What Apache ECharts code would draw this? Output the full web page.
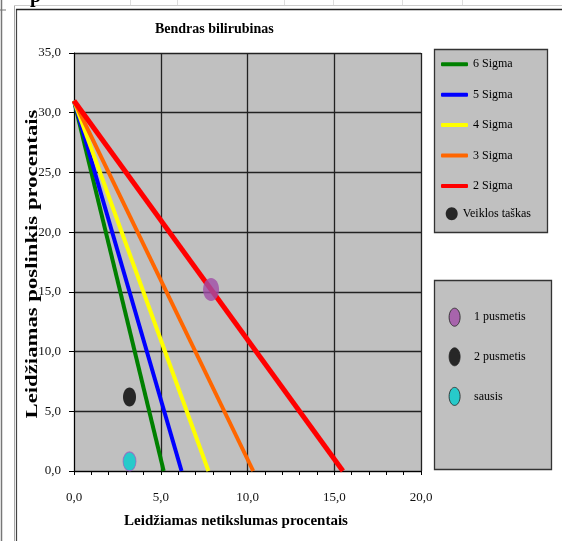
<!DOCTYPE html>
<html>
<head>
<meta charset="utf-8">
<script src="https://cdn.jsdelivr.net/npm/echarts@6/dist/echarts.min.js"></script>
<style>
  html, body { margin: 0; padding: 0; background: #ffffff; }
  #chart { width: 562px; height: 541px; }
</style>
</head>
<body>
<div id="chart"></div>
<script>
// Sigma decision lines: each runs from (0, allowed bias) to (allowed CV, 0)
const sigmaNames = ['6 Sigma', '5 Sigma', '4 Sigma', '3 Sigma', '2 Sigma'];
const sigmaColors = ['#008000', '#0000ff', '#ffff00', '#ff6600', '#ff0000'];
const sigmaBiasAtZero = [31.0, 31.0, 31.0, 31.0, 31.0];
const sigmaCvAtZero = [5.17, 6.2, 7.75, 10.33, 15.5];

// Operating points (CV %, bias %)
const pointNames = ['1 pusmetis', '2 pusmetis', 'sausis'];
const pointColors = ['#a04ca6', '#000000', '#00cccc'];
const pointCv = [7.9, 3.2, 3.2];
const pointBias = [15.2, 6.2, 0.8];

// Axis ticks
const xTicks = [0, 5, 10, 15, 20];
const yTicks = [0, 5, 10, 15, 20, 25, 30, 35];

const serif = '"Liberation Serif", "Times New Roman", serif';
const ellipse = 'path://M0,-1C0.552,-1,1,-0.552,1,0C1,0.552,0.552,1,0,1C-0.552,1,-1,0.552,-1,0C-1,-0.552,-0.552,-1,0,-1Z';
const fmt = v => v.toFixed(1).replace('.', ',');

const series = [];
sigmaNames.forEach((name, i) => {
  series.push({
    name: name,
    type: 'line',
    color: sigmaColors[i],
    data: [[0, sigmaBiasAtZero[i]], [sigmaCvAtZero[i], 0]],
    showSymbol: false,
    symbol: 'none',
    lineStyle: { width: i === 4 ? 5 : 4, color: sigmaColors[i], cap: 'butt' },
    silent: true,
    z: 2
  });
});
series.push({
  name: 'Veiklos taškas',
  type: 'scatter',
  color: '#000000',
  data: [],
  symbol: ellipse
});
const pointSizes = [[16, 23], [13, 19], [13, 19]];
const pointBorders = [null, null, '#a060c0'];
pointNames.forEach((name, i) => {
  series.push({
    name: name,
    type: 'scatter',
    color: pointColors[i],
    symbol: ellipse,
    symbolSize: pointSizes[i],
    data: [[pointCv[i], pointBias[i]]],
    itemStyle: {
      color: pointColors[i],
      borderColor: pointBorders[i] || pointColors[i],
      borderWidth: pointBorders[i] ? 1 : 0
    },
    z: 4
  });
});

const chart = echarts.init(document.getElementById('chart'), null, { renderer: 'canvas' });
chart.setOption({
  backgroundColor: '#ffffff',
  animation: false,
  title: {
    text: 'Bendras bilirubinas',
    left: 155,
    top: 22,
    padding: 0,
    textStyle: { fontFamily: serif, fontSize: 14, fontWeight: 'bold', color: '#000' }
  },
  grid: {
    left: 74, right: 141, top: 53, bottom: 70,
    show: true, backgroundColor: '#c0c0c0', borderWidth: 0
  },
  xAxis: {
    type: 'value',
    min: xTicks[0], max: xTicks[xTicks.length - 1], interval: 5,
    name: 'Leidžiamas netikslumas procentais',
    nameLocation: 'middle',
    nameGap: 43,
    nameTextStyle: { fontFamily: serif, fontSize: 15, fontWeight: 'bold', color: '#000', padding: [0, 23, 0, 0] },
    axisLine: { show: true, onZero: false, lineStyle: { color: '#000', width: 1 } },
    axisTick: { show: true, inside: false, length: 4, lineStyle: { color: '#000' } },
    minorTick: { show: true, splitNumber: 5, length: 4, lineStyle: { color: '#000' } },
    axisLabel: { formatter: fmt, margin: 20, fontFamily: serif, fontSize: 13, color: '#111' },
    splitLine: { show: true, lineStyle: { color: '#222', width: 1.3 } }
  },
  yAxis: {
    type: 'value',
    min: yTicks[0], max: yTicks[yTicks.length - 1], interval: 5,
    axisLine: { show: true, onZero: false, lineStyle: { color: '#000', width: 1 } },
    axisTick: { show: true, inside: false, length: 5, lineStyle: { color: '#000' } },
    axisLabel: { formatter: fmt, margin: 13, fontFamily: serif, fontSize: 13, color: '#111' },
    splitLine: { show: true, lineStyle: { color: '#222', width: 1.3 } }
  },
  legend: [
    {
      orient: 'vertical',
      left: 441, top: 57.3,
      itemWidth: 27, itemHeight: 4,
      itemGap: 16.4,
      padding: 0,
      icon: 'roundRect',
      selectedMode: false,
      data: sigmaNames,
      textStyle: { fontFamily: serif, fontSize: 12, color: '#000', lineHeight: 14 }
    },
    {
      orient: 'vertical',
      left: 445.7, top: 206.8,
      itemWidth: 12, itemHeight: 13,
      padding: 0,
      selectedMode: false,
      symbolKeepAspect: false,
      data: [{ name: 'Veiklos taškas', icon: ellipse }],
      textStyle: { fontFamily: serif, fontSize: 12, color: '#000', lineHeight: 14 }
    },
    {
      orient: 'vertical',
      left: 448.6, top: 307.7,
      itemWidth: 11, itemHeight: 18,
      itemGap: 20.6,
      padding: 0,
      selectedMode: false,
      symbolKeepAspect: false,
      data: pointNames.map(n => ({
        name: n,
        icon: ellipse,
        itemStyle: { borderColor: '#222', borderWidth: 1 }
      })),
      textStyle: { fontFamily: serif, fontSize: 12, color: '#000', lineHeight: 14, padding: [0, 0, 0, 9] }
    }
  ],
  graphic: [
    // legend panels
    { type: 'rect', shape: { x: 434.5, y: 49.5, width: 113, height: 183 },
      style: { fill: '#c0c0c0', stroke: '#333', lineWidth: 1.3 }, z: -10 },
    { type: 'rect', shape: { x: 434.5, y: 280.5, width: 117, height: 189 },
      style: { fill: '#c0c0c0', stroke: '#333', lineWidth: 1.3 }, z: -10 },
    // rotated y-axis title
    { type: 'text', x: 33, y: 264, rotation: Math.PI / 2, scaleX: 1.42,
      style: { text: 'Leidžiamas poslinkis procentais', fontFamily: serif, fontSize: 16,
               fontWeight: 'bold', fill: '#000', align: 'center', verticalAlign: 'middle' } },
    // document frame around the chart
    { type: 'line', shape: { x1: 1.5, y1: 0, x2: 1.5, y2: 541 }, style: { stroke: '#777', lineWidth: 1.5 } },
    { type: 'line', shape: { x1: 0, y1: 10, x2: 6, y2: 10 }, style: { stroke: '#777', lineWidth: 1 } },
    { type: 'line', shape: { x1: 14.5, y1: 5, x2: 14.5, y2: 541 }, style: { stroke: '#aaa', lineWidth: 1 } },
    { type: 'line', shape: { x1: 16.5, y1: 9, x2: 16.5, y2: 541 }, style: { stroke: '#444', lineWidth: 1.2 } },
    { type: 'line', shape: { x1: 14, y1: 5.5, x2: 562, y2: 5.5 }, style: { stroke: '#ccc', lineWidth: 1 } },
    { type: 'line', shape: { x1: 16, y1: 9.5, x2: 562, y2: 9.5 }, style: { stroke: '#222', lineWidth: 1.3 } },
    { type: 'line', shape: { x1: 130.5, y1: 0, x2: 130.5, y2: 5 }, style: { stroke: '#ddd', lineWidth: 1 } },
    { type: 'line', shape: { x1: 177.5, y1: 0, x2: 177.5, y2: 5 }, style: { stroke: '#ddd', lineWidth: 1 } },
    { type: 'line', shape: { x1: 284.5, y1: 0, x2: 284.5, y2: 5 }, style: { stroke: '#ddd', lineWidth: 1 } },
    { type: 'line', shape: { x1: 333.5, y1: 0, x2: 333.5, y2: 5 }, style: { stroke: '#ddd', lineWidth: 1 } },
    { type: 'line', shape: { x1: 402.5, y1: 0, x2: 402.5, y2: 5 }, style: { stroke: '#ddd', lineWidth: 1 } },
    { type: 'line', shape: { x1: 462.5, y1: 0, x2: 462.5, y2: 5 }, style: { stroke: '#ddd', lineWidth: 1 } },
    { type: 'text', x: 30, y: -13,
      style: { text: 'p', fontFamily: serif, fontSize: 20, fontWeight: 'bold', fill: '#000' } }
  ],
  series: series
});
</script>
</body>
</html>
